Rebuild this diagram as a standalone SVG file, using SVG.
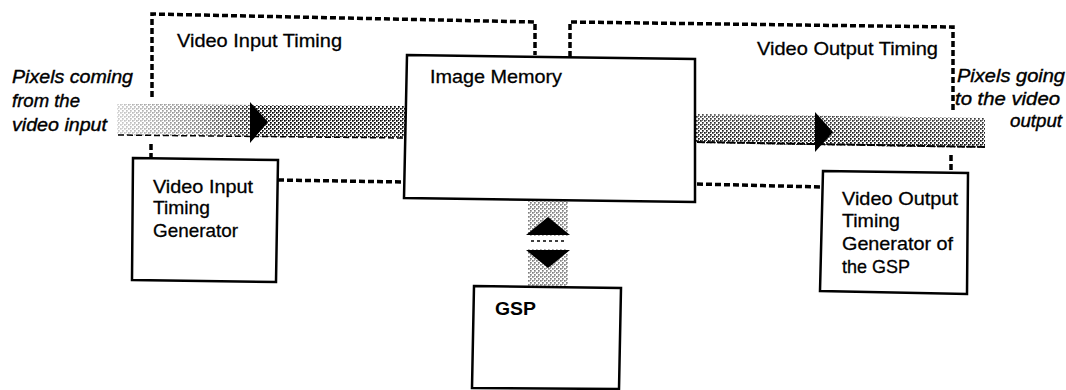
<svg xmlns="http://www.w3.org/2000/svg" width="1066" height="390" viewBox="0 0 1066 390">
<style>
.box{fill:#fff;stroke:#000;stroke-width:2.5;stroke-linejoin:miter}
.dash{fill:none;stroke:#000;stroke-width:3.5;stroke-dasharray:6 3}
.t{font-family:"Liberation Sans",Arial,sans-serif;font-size:19px;fill:#000;stroke:#000;stroke-width:0.3}
.i{font-family:"Liberation Sans",Arial,sans-serif;font-size:19px;font-style:italic;fill:#000;stroke:#000;stroke-width:0.4}
.b{font-family:"Liberation Sans",Arial,sans-serif;font-size:19px;font-weight:bold;fill:#000}
.head{fill:#000}
</style>
<defs>
<pattern id="dots" width="4" height="4" patternUnits="userSpaceOnUse">
<rect width="4" height="4" fill="#fff"/>
<rect x="0" y="0" width="1.7" height="1.7" fill="#000"/>
<rect x="2" y="2" width="1.7" height="1.7" fill="#000"/>
<rect x="2" y="0" width="1" height="1" fill="#444"/>
</pattern>
<linearGradient id="fadeL" x1="0" y1="0" x2="1" y2="0">
<stop offset="0" stop-color="#fff" stop-opacity="0.8"/>
<stop offset="0.6" stop-color="#fff" stop-opacity="0.5"/>
<stop offset="1" stop-color="#fff" stop-opacity="0.1"/>
</linearGradient>
<linearGradient id="fadeV" x1="0" y1="0" x2="0" y2="1">
<stop offset="0" stop-color="#fff" stop-opacity="0.25"/>
<stop offset="1" stop-color="#fff" stop-opacity="0"/>
</linearGradient>
</defs>

<g id="connectors">
<!-- left input band -->
<polygon points="117,104 405,106 405,138 117,135" fill="url(#dots)"/>
<polygon points="117,104 250,105 250,136 117,135" fill="url(#fadeL)"/>
<line x1="118" y1="135" x2="405" y2="138" stroke="#000" stroke-width="1.5" stroke-dasharray="6 3"/>
<polygon class="head" points="250,102 268,122 250,143"/>
<!-- right output band -->
<polygon points="695,114 985,118 985,148 695,143" fill="url(#dots)"/>
<polygon points="695,114 985,118 985,148 695,143" fill="url(#fadeV)"/>
<line x1="697" y1="142" x2="985" y2="147" stroke="#000" stroke-width="2" stroke-dasharray="8 2"/>
<polygon class="head" points="815,112 833,132 815,152"/>
<!-- vertical bidirectional band -->
<rect x="528" y="201" width="40" height="85" fill="url(#dots)"/>
<rect x="528" y="201" width="40" height="85" fill="#fff" fill-opacity="0.5"/>
<rect x="528" y="236" width="40" height="13" fill="#fff"/>
<line x1="531" y1="241" x2="566" y2="241" stroke="#000" stroke-width="1.5" stroke-dasharray="3 3"/>
<polygon class="head" points="548,217 570,235 526,235"/>
<polygon class="head" points="526,250 570,250 548,268"/>
</g>

<g id="video-input-timing-region">
<polyline class="dash" points="152,97 152,14 535,22 535,55"/>
<line class="dash" x1="151" y1="144" x2="151" y2="158"/>
<line class="dash" x1="278" y1="180" x2="404" y2="182"/>
<text class="t" x="177" y="47" textLength="165" lengthAdjust="spacingAndGlyphs">Video Input Timing</text>
</g>

<g id="video-output-timing-region">
<polyline class="dash" points="570,57 570,22 953,27 953,110"/>
<line class="dash" x1="951" y1="155" x2="951" y2="171"/>
<line class="dash" x1="697" y1="184" x2="821" y2="187"/>
<text class="t" x="757" y="55" textLength="181" lengthAdjust="spacingAndGlyphs">Video Output Timing</text>
</g>

<g id="label-input">
<text class="i" x="12" y="83" textLength="121" lengthAdjust="spacingAndGlyphs">Pixels coming</text>
<text class="i" x="12" y="107" textLength="68" lengthAdjust="spacingAndGlyphs">from the</text>
<text class="i" x="12" y="131" textLength="95" lengthAdjust="spacingAndGlyphs">video input</text>
</g>

<g id="label-output">
<text class="i" x="957" y="82" textLength="108" lengthAdjust="spacingAndGlyphs">Pixels going</text>
<text class="i" x="955" y="105" textLength="105" lengthAdjust="spacingAndGlyphs">to the video</text>
<text class="i" x="1010" y="127" textLength="52" lengthAdjust="spacingAndGlyphs">output</text>
</g>

<g id="image-memory">
<polygon class="box" points="407,55 695,59 695,202 404,198"/>
<text class="t" x="430" y="83" textLength="132" lengthAdjust="spacingAndGlyphs">Image Memory</text>
</g>

<g id="video-input-timing-generator">
<polygon class="box" points="133,158 278,160 276,282 132,280"/>
<text class="t" x="153" y="193" textLength="100" lengthAdjust="spacingAndGlyphs">Video Input</text>
<text class="t" x="153" y="214" textLength="57" lengthAdjust="spacingAndGlyphs">Timing</text>
<text class="t" x="153" y="237" textLength="85" lengthAdjust="spacingAndGlyphs">Generator</text>
</g>

<g id="video-output-timing-generator">
<polygon class="box" points="823,171 968,173 967,294 820,291"/>
<text class="t" x="842" y="205" textLength="116" lengthAdjust="spacingAndGlyphs">Video Output</text>
<text class="t" x="842" y="227" textLength="58" lengthAdjust="spacingAndGlyphs">Timing</text>
<text class="t" x="842" y="250" textLength="111" lengthAdjust="spacingAndGlyphs">Generator of</text>
<text class="t" x="842" y="273" textLength="68" lengthAdjust="spacingAndGlyphs">the GSP</text>
</g>

<g id="gsp">
<polygon class="box" points="474,286 621,288 619,389 472,388"/>
<text class="b" x="495" y="315" textLength="41" lengthAdjust="spacingAndGlyphs">GSP</text>
</g>
</svg>
